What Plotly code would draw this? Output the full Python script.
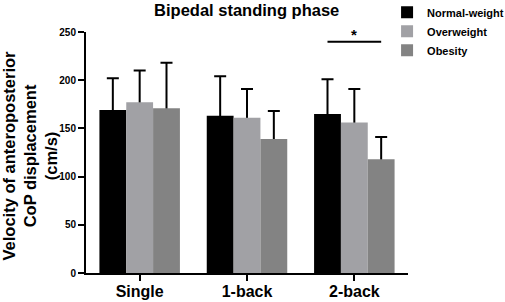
import plotly.graph_objects as go

categories = ["Single", "1-back", "2-back"]
groups = ["Normal-weight", "Overweight", "Obesity"]
normal_mean = [169, 163, 165]
normal_sd = [33, 41, 36]
over_mean = [177, 161, 156]
over_sd = [33, 30, 35]
obes_mean = [171, 139, 118]
obes_sd = [47, 29, 23]
colors = ["#000000", "#a1a1a5", "#838383"]
y_ticks = [0, 50, 100, 150, 200, 250]
sig_y = 240

means = [normal_mean, over_mean, obes_mean]
sds = [normal_sd, over_sd, obes_sd]

FONT = "Liberation Sans, Arial, sans-serif"

fig = go.Figure()

# error bars (upper only) on transparent bars, drawn underneath the visible bars
for i, g in enumerate(groups):
    fig.add_trace(go.Bar(
        x=categories, y=means[i], offsetgroup=str(i), showlegend=False,
        marker=dict(color="rgba(0,0,0,0)", line=dict(width=0)),
        error_y=dict(type="data", symmetric=False, array=sds[i],
                     arrayminus=[m / 2 for m in means[i]],
                     color="#000000", thickness=2, width=6),
        hoverinfo="skip",
    ))

for i, g in enumerate(groups):
    fig.add_trace(go.Bar(
        x=categories, y=means[i], offsetgroup=str(i), name="<b>" + g + "</b>",
        marker=dict(color=colors[i], line=dict(width=0)),
    ))

# significance bar
fig.add_shape(type="line", xref="x", yref="y", x0=1.75, x1=2.25, y0=sig_y, y1=sig_y,
              line=dict(color="#000000", width=2))
fig.add_annotation(x=2, y=sig_y, xref="x", yref="y", text="<b>*</b>", showarrow=False,
                   yanchor="bottom", yshift=-3, font=dict(size=15, color="#000000", family=FONT))

# y-axis title
fig.add_annotation(x=0, y=0.5, xref="paper", yref="paper", xanchor="center", yanchor="middle",
                   xshift=-56, yshift=-3, textangle=-90, showarrow=False,
                   text="<b>Velocity of anteroposterior<br>CoP displacement<br>(cm/s)</b>",
                   font=dict(size=16.5, family=FONT, color="#000000"))

fig.update_layout(
    width=505, height=302,
    margin=dict(l=86, r=97, t=32, b=29, autoexpand=False),
    paper_bgcolor="white", plot_bgcolor="white",
    barmode="group", bargap=0.25, bargroupgap=0,
    font=dict(family=FONT, color="#000000"),
    title=dict(text="<b>Bipedal standing phase</b>", x=0.4885, xanchor="center",
               y=0.965, yanchor="middle", font=dict(size=16.5, family=FONT, color="#000000")),
    legend=dict(x=0.935, xanchor="left", y=1.142, yanchor="top",
                font=dict(size=11, family=FONT, color="#000000"),
                itemwidth=30, tracegroupgap=0, bgcolor="rgba(0,0,0,0)"),
    xaxis=dict(showline=True, linecolor="#000000", linewidth=2, automargin=False,
               ticks="outside", ticklen=6, tickwidth=2, tickcolor="#000000",
               ticklabelstandoff=-3,
               tickfont=dict(size=16, family=FONT, color="#000000"),
               tickvals=categories, ticktext=["<b>" + c + "</b>" for c in categories],
               range=[-0.5, 2.5], showgrid=False, zeroline=False),
    yaxis=dict(showline=True, linecolor="#000000", linewidth=2, automargin=False,
               ticks="outside", ticklen=6, tickwidth=2, tickcolor="#000000",
               tickfont=dict(size=10, family=FONT, color="#000000"),
               tickvals=y_ticks, ticktext=["<b>%d</b>" % v for v in y_ticks],
               range=[0, 250], showgrid=False, zeroline=False),
)

fig.write_html("out.html", config={"displayModeBar": False},
               post_script="document.body.style.margin='0px';")
